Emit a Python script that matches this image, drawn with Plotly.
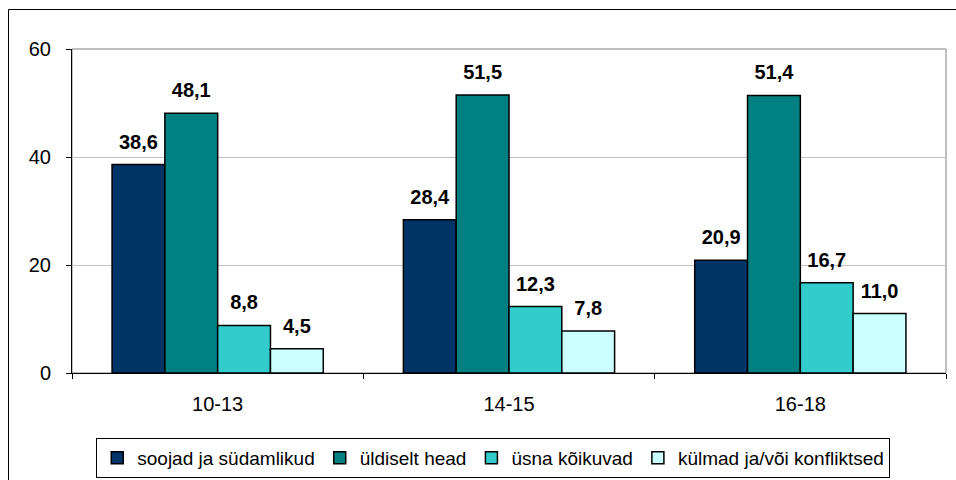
import plotly.graph_objects as go

categories = ["10-13", "14-15", "16-18"]
series_names = ["soojad ja südamlikud", "üldiselt head", "üsna kõikuvad", "külmad ja/või konfliktsed"]
soojad = [38.6, 28.4, 20.9]
yldiselt = [48.1, 51.5, 51.4]
usna = [8.8, 12.3, 16.7]
kylmad = [4.5, 7.8, 11.0]
colors = ["#003366", "#008080", "#33CCCC", "#CCFFFF"]
y_ticks = [0, 20, 40, 60]

series_values = [soojad, yldiselt, usna, kylmad]
FONT = "Liberation Sans, Arial, sans-serif"

fig = go.Figure()
for name, vals, col in zip(series_names, series_values, colors):
    fig.add_trace(go.Bar(
        x=categories, y=vals, name=name,
        marker=dict(color=col, line=dict(color="#000000", width=1.5)),
        hoverinfo="skip",
    ))
for name, vals in zip(series_names, series_values):
    fig.add_trace(go.Scatter(
        x=categories, y=vals, mode="markers+text",
        text=[f"{v:.1f}".replace(".", ",") for v in vals],
        textposition="top center",
        textfont=dict(family=FONT, size=20, color="#000000", weight="bold"),
        marker=dict(size=16, opacity=0),
        showlegend=False, hoverinfo="skip", cliponaxis=False,
    ))

fig.update_layout(
    width=956, height=480,
    margin=dict(l=72, r=10, t=49, b=107),
    paper_bgcolor="white", plot_bgcolor="white",
    barmode="group", bargap=0.275, bargroupgap=0,
    scattermode="group",
    font=dict(family=FONT, size=20, color="#000000"),
    separators=", ",
    legend=dict(
        orientation="h", x=0.482, xanchor="center",
        yref="container", y=0.0875, yanchor="top",
        bordercolor="#000000", borderwidth=1, bgcolor="white",
        font=dict(family=FONT, size=19), traceorder="normal",
        itemclick=False, itemdoubleclick=False,
    ),
    xaxis=dict(
        type="category", showline=True, linecolor="#000000", linewidth=1,
        ticks="outside", tickson="boundaries", ticklen=5, tickcolor="#000000",
        showgrid=False, ticklabelstandoff=13, fixedrange=True,
    ),
    yaxis=dict(
        range=[0, 60], tickvals=y_ticks, showline=True, linecolor="#000000", linewidth=1,
        ticks="outside", ticklen=5, tickcolor="#000000",
        showgrid=True, gridcolor="#C0C0C0", gridwidth=1, zeroline=False,
        ticklabelstandoff=11, fixedrange=True,
    ),
    shapes=[
        dict(type="rect", xref="paper", yref="paper", x0=0, x1=1, y0=0, y1=1,
             line=dict(color="#808080", width=1), layer="below"),
        dict(type="rect", xref="paper", yref="paper",
             x0=(8.5 - 72) / 874, x1=(960 - 72) / 874,
             y0=(373 - 490) / 324, y1=(373 - 9.5) / 324,
             line=dict(color="#000000", width=1), layer="below"),
    ],
)

fig.write_html("out.html", config={"displayModeBar": False},
               post_script="document.body.style.margin='0';document.body.style.overflow='hidden';")
